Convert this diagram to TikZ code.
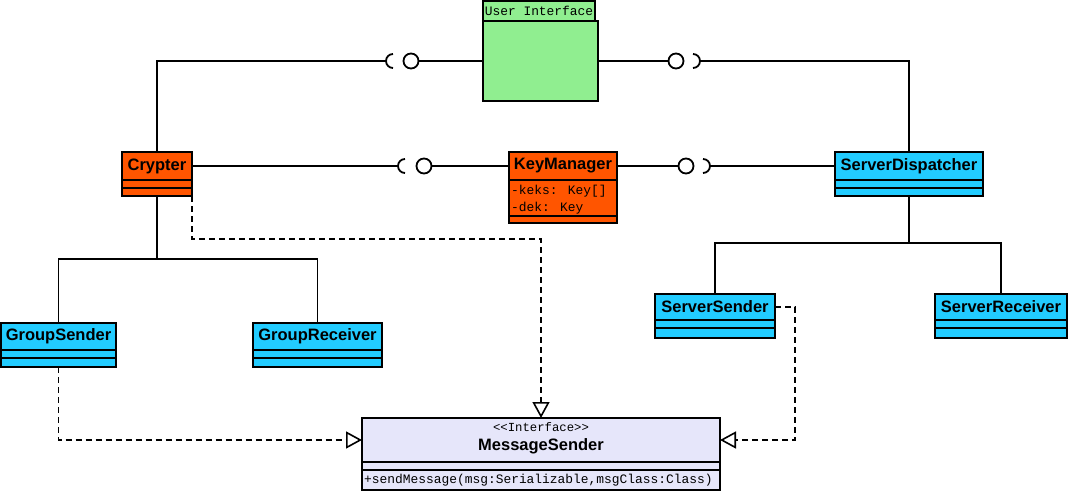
\documentclass[tikz,border=0pt]{standalone}
\usepackage{fontspec}
\usetikzlibrary{arrows.meta}
\newfontfamily\sansf{Liberation Sans}
\newfontfamily\monof{Liberation Mono}
\definecolor{uigreen}{RGB}{144,238,144}
\definecolor{korange}{RGB}{255,85,0}
\definecolor{ccyan}{RGB}{34,204,255}
\definecolor{lav}{RGB}{230,230,250}
\begin{document}
\begin{tikzpicture}[x=1pt,y=-1pt,
  part/.style={draw, line width=2pt, inner sep=0pt, outer sep=0pt, anchor=north west},
  title/.style={font=\sansf\bfseries\fontsize{16.5}{18}\selectfont},
  mono/.style={font=\monof\fontsize{12.9}{14}\selectfont, inner sep=0pt},
  conn/.style={line width=1.8pt},
  dep/.style={line width=1.6pt, dash pattern=on 6pt off 4pt, -{Triangle[open,length=16pt,width=17pt]}},
  ball/.style={circle, draw, line width=1.8pt, minimum size=15pt, inner sep=0pt},
]
\fill[white] (0,0) rectangle (1070,492);
\useasboundingbox (0,0) rectangle (1070,492);

% User Interface
\node[part, fill=uigreen, minimum width=112pt, minimum height=20pt] (uitab) at (483,1) {};
\node[mono] (uitext) at (uitab.center) {User Interface};
\node[part, fill=uigreen, minimum width=115pt, minimum height=80pt] (ui) at (483,21) {};

% Crypter
\node[part, fill=korange, minimum width=70pt, minimum height=28pt, title] (crH) at (122,152) {Crypter};
\node[part, fill=korange, minimum width=70pt, minimum height=8pt] (crA) at (crH.south west) {};
\node[part, fill=korange, minimum width=70pt, minimum height=8pt] (crO) at (crA.south west) {};

% KeyManager
\node[part, fill=korange, minimum width=108pt, minimum height=28pt, title] (kmH) at (509,152) {KeyManager};
\node[part, fill=korange, minimum width=108pt, minimum height=36pt] (kmA) at (kmH.south west) {};
\node[part, fill=korange, minimum width=108pt, minimum height=7pt] (kmO) at (kmA.south west) {};
\node[mono, anchor=west] (kmA1) at ([xshift=2pt,yshift=-11.5pt]kmA.north west) {-keks: Key[]};
\node[mono, anchor=west] (kmA2) at ([xshift=2pt,yshift=-28pt]kmA.north west) {-dek: Key};

% ServerDispatcher
\node[part, fill=ccyan, minimum width=148pt, minimum height=28pt, title] (sdH) at (835,152) {ServerDispatcher};
\node[part, fill=ccyan, minimum width=148pt, minimum height=8pt] (sdA) at (sdH.south west) {};
\node[part, fill=ccyan, minimum width=148pt, minimum height=8pt] (sdO) at (sdA.south west) {};

% GroupSender
\node[part, fill=ccyan, minimum width=115pt, minimum height=27pt, title] (gsH) at (1,323) {GroupSender};
\node[part, fill=ccyan, minimum width=115pt, minimum height=8pt] (gsA) at (gsH.south west) {};
\node[part, fill=ccyan, minimum width=115pt, minimum height=9pt] (gsO) at (gsA.south west) {};

% GroupReceiver
\node[part, fill=ccyan, minimum width=129pt, minimum height=27pt, title] (grH) at (253,323) {GroupReceiver};
\node[part, fill=ccyan, minimum width=129pt, minimum height=8pt] (grA) at (grH.south west) {};
\node[part, fill=ccyan, minimum width=129pt, minimum height=9pt] (grO) at (grA.south west) {};

% ServerSender
\node[part, fill=ccyan, minimum width=120pt, minimum height=26pt, title] (ssH) at (655,294) {ServerSender};
\node[part, fill=ccyan, minimum width=120pt, minimum height=8pt] (ssA) at (ssH.south west) {};
\node[part, fill=ccyan, minimum width=120pt, minimum height=10pt] (ssO) at (ssA.south west) {};

% ServerReceiver
\node[part, fill=ccyan, minimum width=132pt, minimum height=26pt, title] (srH) at (935,294) {ServerReceiver};
\node[part, fill=ccyan, minimum width=132pt, minimum height=8pt] (srA) at (srH.south west) {};
\node[part, fill=ccyan, minimum width=132pt, minimum height=10pt] (srO) at (srA.south west) {};

% MessageSender
\node[part, fill=lav, minimum width=358pt, minimum height=44pt] (msH) at (362,418) {};
\node[part, fill=lav, minimum width=358pt, minimum height=8pt] (msA) at (msH.south west) {};
\node[part, fill=lav, minimum width=358pt, minimum height=20pt] (msO) at (msA.south west) {};
\node[mono, font=\monof\fontsize{12.3}{14}\selectfont] (msst) at ([yshift=-9.5pt]msH.north) {<{}<Interface>{}>};
\node[title] (mstitle) at ([yshift=-28pt]msH.north) {MessageSender};
\node[mono, anchor=west] (msop) at ([xshift=2pt]msO.west) {+sendMessage(msg:Serializable,msgClass:Class)};

% ball and socket: Crypter -- User Interface
\coordinate (sk1) at (393,61);
\node[ball] (b1) at (411,61) {};
\draw[conn] ([yshift=7pt]sk1) arc[start angle=90,end angle=270,radius=7pt];
\draw[conn] (crH.north) |- ([xshift=-7pt]sk1);
\draw[conn] (b1.east) -- (ui.west);

% User Interface -- ServerDispatcher
\node[ball] (b2) at (676,61) {};
\coordinate (sk2) at (693,61);
\draw[conn] ([yshift=7pt]sk2) arc[start angle=90,end angle=-90,radius=7pt];
\draw[conn] (ui.east) -- (b2.west);
\draw[conn] ([xshift=7pt]sk2) -| (sdH.north);

% Crypter -- KeyManager
\coordinate (sk3) at (405,166);
\node[ball] (b3) at (424,166) {};
\draw[conn] ([yshift=7pt]sk3) arc[start angle=90,end angle=270,radius=7pt];
\draw[conn] (crH.east) -- ([xshift=-7pt]sk3);
\draw[conn] (b3.east) -- (kmH.west);

% KeyManager -- ServerDispatcher
\node[ball] (b4) at (686,166) {};
\coordinate (sk4) at (703,166);
\draw[conn] ([yshift=7pt]sk4) arc[start angle=90,end angle=-90,radius=7pt];
\draw[conn] (kmH.east) -- (b4.west);
\draw[conn] ([xshift=7pt]sk4) -- (sdH.west);

% Crypter tree
\coordinate (j1) at ([yshift=-63pt]crO.south);
\draw[conn] (crO.south) -- (j1);
\draw[conn] (gsH.north) |- (j1) -| (grH.north);

% ServerDispatcher tree
\coordinate (j2) at ([yshift=-47pt]sdO.south);
\draw[conn] (sdO.south) -- (j2);
\draw[conn] (ssH.north) |- (j2) -| (srH.north);

% dependencies
\draw[dep] (crO.south east) -- ++(0,43) -| (msH.north);
\draw[dep] (gsO.south) |- (msH.west);
\draw[dep] (ssH.east) -- ++(20,0) |- (msH.east);
\end{tikzpicture}
\end{document}
